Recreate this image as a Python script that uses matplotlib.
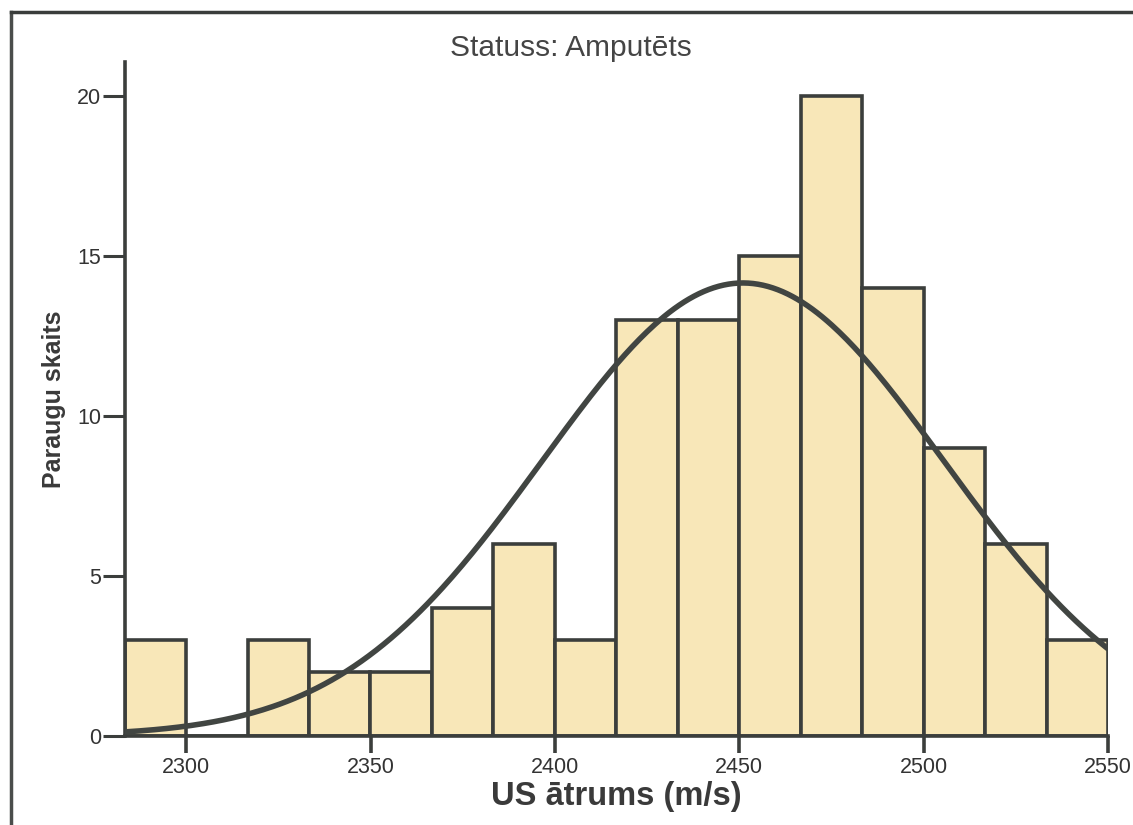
import numpy as np
import matplotlib.pyplot as plt
from matplotlib.lines import Line2D

plt.rcParams['font.family'] = ['Liberation Sans', 'DejaVu Sans']

# histogram data (bin width 50/3 m/s)
bin_start = 2283.33
bin_width = 50.0 / 3
counts = [3, 0, 3, 2, 2, 4, 6, 3, 13, 13, 15, 20, 14, 9, 6, 3]

# fitted normal curve parameters
fit_mean = 2451
fit_sd = 54.5

xticks = [2300, 2350, 2400, 2450, 2500, 2550]
yticks = [0, 5, 10, 15, 20]

edge_col = '#3b3e3c'
fill_col = '#f8e7b8'

edges = bin_start + bin_width * np.arange(len(counts) + 1)
n_total = sum(counts)

fig = plt.figure(figsize=(11.33, 8.25), dpi=100)
ax = fig.add_axes([0.110, 0.108, 0.868, 0.817])

ax.bar(edges[:-1], counts, width=bin_width, align='edge',
       color=fill_col, edgecolor=edge_col, linewidth=2.6, zorder=2)

xc = np.linspace(edges[0], edges[-1], 400)
yc = n_total * bin_width / (fit_sd * np.sqrt(2 * np.pi)) * np.exp(-0.5 * ((xc - fit_mean) / fit_sd) ** 2)
ax.plot(xc, yc, color='#414542', linewidth=4, zorder=3, solid_capstyle='round')

ax.set_xlim(edges[0], edges[-1])
ax.set_ylim(0, 21.06)
ax.set_xticks(xticks)
ax.set_yticks(yticks)

for s in ['top', 'right']:
    ax.spines[s].set_visible(False)
for s in ['left', 'bottom']:
    ax.spines[s].set_color(edge_col)
    ax.spines[s].set_linewidth(2.6)

ax.tick_params(axis='y', direction='out', length=16, width=2.2, color=edge_col,
               labelsize=15.5, labelcolor='#333333', pad=1)
ax.tick_params(axis='x', direction='out', length=12, width=2.6, color=edge_col,
               labelsize=15.5, labelcolor='#333333', pad=3)

fig.text(571 / 1133, 1 - 48 / 825, 'Statuss: Amputēts', fontsize=21.5, color='#454545',
         ha='center', va='center')
ax.set_xlabel('US ātrums (m/s)', fontsize=23.5, fontweight='bold', color='#3a3a3a', labelpad=2)
ax.set_ylabel('Paraugu skaits', fontsize=18, fontweight='bold', color='#3a3a3a', labelpad=8)

# outer frame from the scanned page
fig.add_artist(Line2D([11 / 1133, 11 / 1133], [0, 1 - 12 / 825], transform=fig.transFigure,
                      color='#4a4d4b', linewidth=2.5))
fig.add_artist(Line2D([11 / 1133, 1], [1 - 12 / 825, 1 - 12 / 825], transform=fig.transFigure,
                      color='#3a3d3b', linewidth=2.5))

fig.savefig('out.png', dpi=100)
